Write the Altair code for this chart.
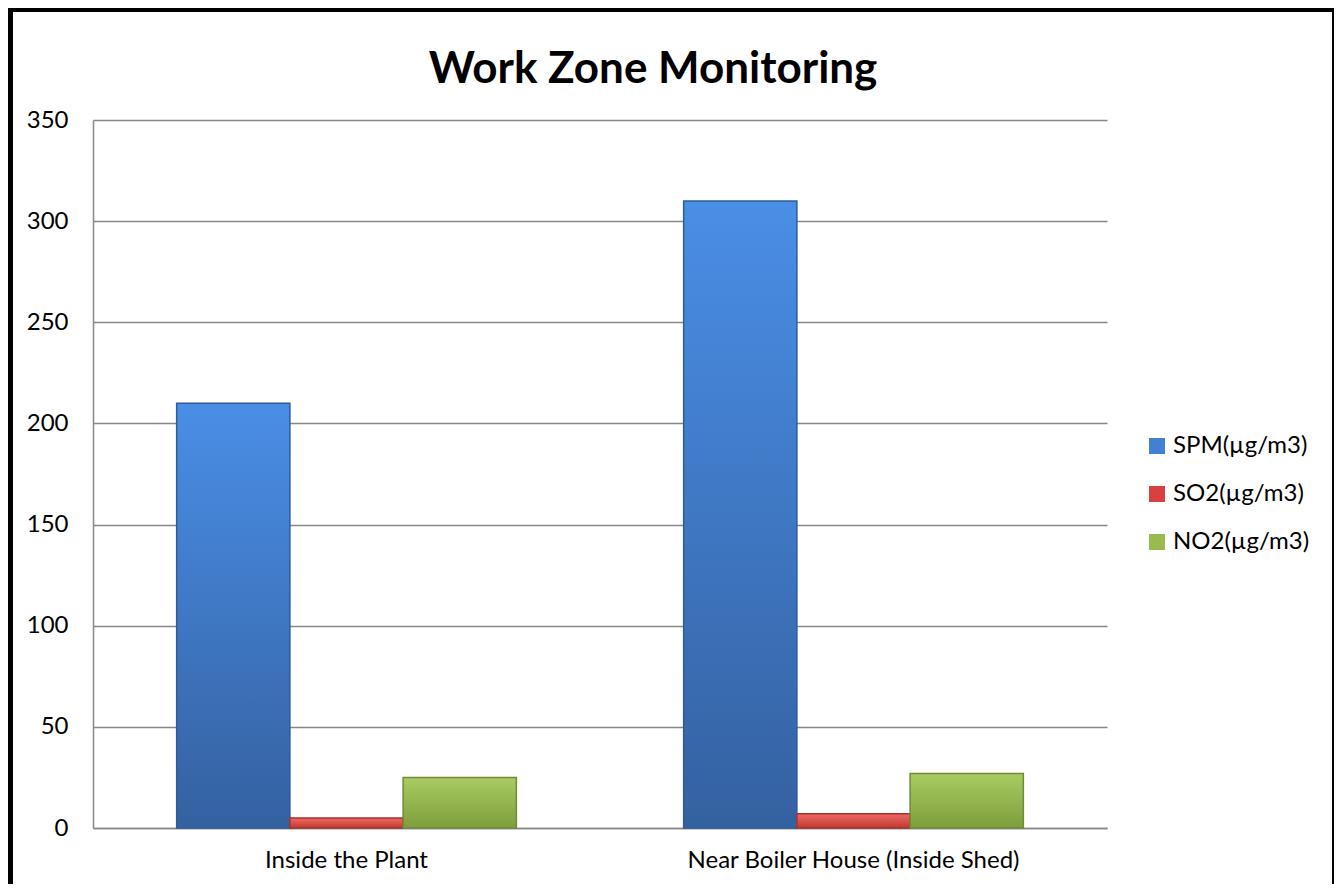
import altair as alt
import pandas as pd

locations = ["Inside the Plant", "Near Boiler House (Inside Shed)"]
series = ["SPM(µg/m3)", "SO2(µg/m3)", "NO2(µg/m3)"]
spm = [210, 310]
so2 = [5, 7]
no2 = [25, 27]
y_ticks = [0, 50, 100, 150, 200, 250, 300, 350]
title_text = ["Work Zone Monitoring"]

colors = ["#4280D4", "#D9413E", "#98BA4F"]
gradients = [
    ("#4A8EE6", "#3461A0"),
    ("#F06A66", "#C0392F"),
    ("#A9CC62", "#7E9D3C"),
]
strokes = ["#2E5C9A", "#A8302C", "#6F8C33"]

rows = []
for i, loc in enumerate(locations):
    for s, vals in zip(series, [spm, so2, no2]):
        rows.append({"Location": loc, "Series": s, "Value": vals[i]})
df = pd.DataFrame(rows)

FONT = "Lato"
FS = 24

x_enc = alt.X("Location:N", sort=locations,
              scale=alt.Scale(paddingInner=0.33, paddingOuter=0.165),
              axis=alt.Axis(title=None, labelAngle=0, labelFontSize=FS, labelLimit=0,
                            labelPadding=20, ticks=False, domainColor="#888888",
                            domainWidth=1.5, labelColor="#000000", labelFont=FONT))
y_enc = alt.Y("Value:Q", scale=alt.Scale(domain=[0, 350], nice=False),
              axis=alt.Axis(title=None, values=y_ticks, labelFontSize=FS,
                            labelPadding=25, ticks=False, domainColor="#888888",
                            domainWidth=1.5, gridColor="#888888", gridWidth=1.5,
                            labelColor="#000000", labelFont=FONT))
xo_enc = alt.XOffset("Series:N", sort=series,
                     scale=alt.Scale(domain=series, paddingInner=0, paddingOuter=0))

base = alt.Chart(df).mark_bar().encode(
    x=x_enc, y=y_enc, xOffset=xo_enc,
    color=alt.Color("Series:N", sort=series,
                    scale=alt.Scale(domain=series, range=colors),
                    legend=alt.Legend(title=None, orient="none", legendX=1052, legendY=314,
                                      symbolType="square", symbolSize=256,
                                      symbolStrokeWidth=0, labelFontSize=FS,
                                      labelFont=FONT, labelColor="#000000",
                                      labelOffset=4, rowPadding=24, padding=0,
                                      labelLimit=0)),
)

layers = [base]
for s, (top, bot), st in zip(series, gradients, strokes):
    layers.append(
        alt.Chart(df).transform_filter(alt.datum.Series == s).mark_bar(
            color=alt.Gradient(gradient="linear", x1=0, x2=0, y1=0, y2=1,
                               stops=[alt.GradientStop(color=top, offset=0),
                                      alt.GradientStop(color=bot, offset=1)]),
            stroke=st, strokeWidth=1.5,
        ).encode(x=x_enc, y=y_enc, xOffset=xo_enc)
    )

title = alt.Chart(pd.DataFrame({"t": title_text})).mark_text(
    font=FONT, fontSize=44, fontWeight="bold", color="#000000",
    align="center", baseline="alphabetic"
).encode(text="t:N", x=alt.value(560), y=alt.value(-37))

frame = alt.Chart(pd.DataFrame({"f": [0]})).mark_rect(
    fill=None, stroke="#000000", strokeWidth=5
).encode(x=alt.value(-82.5), x2=alt.value(1241.5), y=alt.value(-110.5), y2=alt.value(790))

chart = alt.layer(*layers, title, frame).properties(
    width=1014, height=708,
    padding={"left": 85, "top": 112, "right": 227, "bottom": 56},
    autosize=alt.AutoSizeParams(type="none"),
).configure_view(stroke=None).configure_axis(grid=False).configure_axisY(grid=True)

chart.save("out.html", embed_options={"renderer": "svg", "actions": False})
